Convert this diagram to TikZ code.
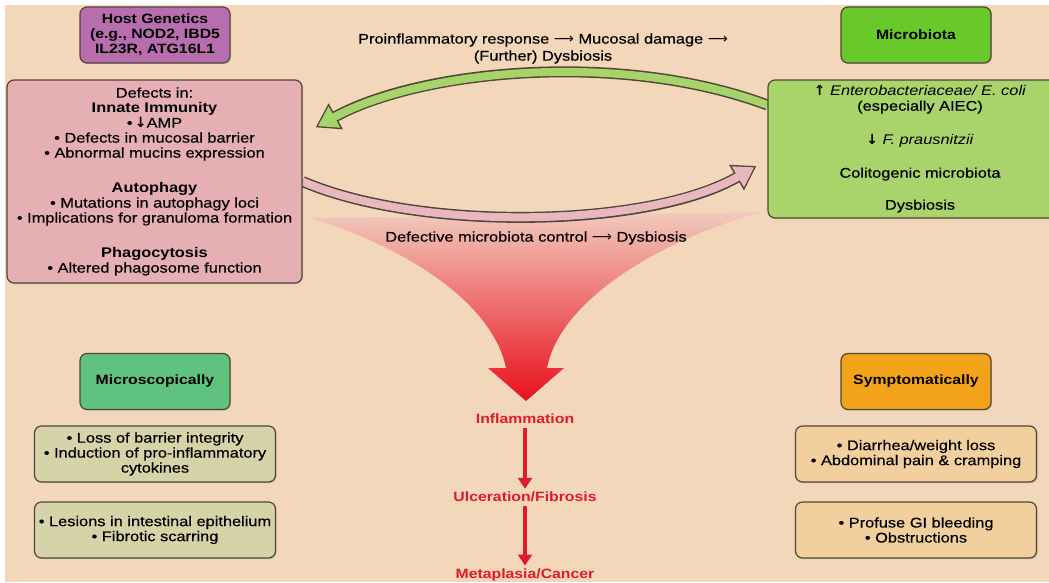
\documentclass[tikz,border=0pt]{standalone}
\usepackage{fontspec}
\setmainfont{Liberation Sans}[FakeStretch=1.17, UprightFeatures={FakeBold=0.35}]
\newfontfamily\arrowfont{DejaVu Sans}
\usetikzlibrary{arrows.meta,calc,shadows}
\pgfdeclarelayer{bg}
\pgfsetlayers{bg,main}

\definecolor{paper}{HTML}{F3D7BB}
\definecolor{boxline}{HTML}{4F4636}
\definecolor{hostfill}{HTML}{B86EAE}
\definecolor{defectfill}{HTML}{E5AFB3}
\definecolor{microfill}{HTML}{69C92A}
\definecolor{microlight}{HTML}{A9D46B}
\definecolor{scopefill}{HTML}{5FC27E}
\definecolor{scopelight}{HTML}{D6D3A8}
\definecolor{symfill}{HTML}{F2A31A}
\definecolor{symlight}{HTML}{F1D09E}
\definecolor{arrowgreen}{HTML}{A6D46A}
\definecolor{arrowpink}{HTML}{E8B7C0}
\definecolor{funneltop}{HTML}{F2CABE}
\definecolor{funnelmid}{HTML}{EC5E82}
\definecolor{funnelred}{HTML}{E8101C}
\definecolor{inflamred}{HTML}{E11B2A}

\newcommand\ra{{\arrowfont ⟶}}
\newcommand\up{{\arrowfont\bfseries ↑}}
\newcommand\down{{\arrowfont\bfseries ↓}}

\begin{document}
\begin{tikzpicture}[x=1pt,y=-1pt,
        box/.style={draw=boxline, line width=1.2pt, rounded corners=7pt, align=center, inner sep=2pt,
            drop shadow={shadow xshift=1.2pt, shadow yshift=-1.2pt, opacity=0.3}},
        headbox/.style={box, minimum width=150pt, minimum height=56pt,
            font=\bfseries\fontsize{13.5}{15}\selectfont},
        listbox/.style={box, minimum width=241pt, minimum height=56pt,
            font=\fontsize{14}{15}\selectfont},
        plain/.style={font=\fontsize{14}{15}\selectfont, align=center, inner sep=0pt},
        stage/.style={font=\bfseries\fontsize{13.5}{15}\selectfont, text=inflamred, inner sep=1pt},
        stagearrow/.style={draw=inflamred, line width=3.5pt,
            -{Triangle[width=14pt,length=11pt]}, shorten <=3pt, shorten >=2pt}]
\useasboundingbox (0,0) rectangle (1049,582);

\node[headbox, fill=hostfill] (host) at (155,35) {Host Genetics\\(e.g., NOD2, IBD5\\IL23R, ATG16L1};
\node[box, fill=defectfill, minimum width=295pt, minimum height=203pt,
    font=\fontsize{14}{15}\selectfont] (defects) at (154.5,181.5)
    {Defects in:\\\textbf{Innate Immunity}\\•\,\down AMP\\• Defects in mucosal barrier\\
     • Abnormal mucins expression\\[20pt]\textbf{Autophagy}\\• Mutations in autophagy loci\\
     • Implications for granuloma formation\\[20pt]\textbf{Phagocytosis}\\• Altered phagosome function};

\node[headbox, fill=microfill] (microbiota) at (916,35) {Microbiota};
\node[box, fill=microlight, minimum width=304pt, minimum height=138pt,
    font=\fontsize{14}{15}\selectfont] (microdetail) at (920,149)
    {\up\ \textit{Enterobacteriaceae/ E. coli}\\(especially AIEC)\\[19pt]
     \down\ \textit{F. prausnitzii}\\[18pt]Colitogenic microbiota\\[17pt]Dysbiosis};

\node[headbox, fill=scopefill] (scope) at (155,381.5) {Microscopically};
\node[listbox, fill=scopelight] (scopeA) at (155,454)
    {• Loss of barrier integrity\\• Induction of pro-inflammatory\\cytokines};
\node[listbox, fill=scopelight] (scopeB) at (155,530)
    {• Lesions in intestinal epithelium\\• Fibrotic scarring};

\node[headbox, fill=symfill] (symptom) at (916,381.5) {Symptomatically};
\node[listbox, fill=symlight] (symA) at (916,454)
    {• Diarrhea/weight loss\\• Abdominal pain \& cramping};
\node[listbox, fill=symlight] (symB) at (916,530)
    {• Profuse GI bleeding\\• Obstructions};

\node[plain] (loop) at (543,48.5)
    {Proinflammatory response \ra\ Mucosal damage \ra\\[2pt](Further) Dysbiosis};
\node[plain] (control) at (536,238) {Defective microbiota control \ra\ Dysbiosis};

\node[stage] (inflam) at (525,419) {Inflammation};
\node[stage] (ulcer) at (525,497) {Ulceration/Fibrosis};
\node[stage] (cancer) at (525,575) {Metaplasia/Cancer};
\draw[stagearrow] (inflam) -- (ulcer);
\draw[stagearrow] (ulcer) -- (cancer);

\begin{pgfonlayer}{bg}
\fill[white] (0,0) rectangle (1049,582);
\fill[paper] (5,5) rectangle (1049,582);
% funnel
\shade[top color=funneltop, middle color=funnelmid, bottom color=funnelred]
    (310,218) -- (762,212) .. controls (660,240) and (560,300) .. (547,368)
    -- (564,368) -- (526,401) -- (488,368) -- (506,368)
    .. controls (492,300) and (400,245) .. cycle;
% feedback loop
\draw[line width=11pt, boxline, -{Triangle[width=28pt,length=23pt]}]
    ([yshift=44pt]microdetail.west) .. controls (620,50) and (420,70) .. ($(defects.north east)+(13,48)$);
\draw[line width=8pt, arrowgreen, -{Triangle[width=23pt,length=19pt]}, shorten >=2.5pt]
    ([yshift=44pt]microdetail.west) .. controls (620,50) and (420,70) .. ($(defects.north east)+(13,48)$);
\draw[line width=11pt, boxline, -{Triangle[width=28pt,length=23pt]}]
    (defects.east) .. controls (420,232) and (650,228) .. ($(microdetail.west)+(-11,17)$);
\draw[line width=8pt, arrowpink, -{Triangle[width=23pt,length=19pt]}, shorten >=2.5pt]
    (defects.east) .. controls (420,232) and (650,228) .. ($(microdetail.west)+(-11,17)$);
\end{pgfonlayer}
\end{tikzpicture}
\end{document}
